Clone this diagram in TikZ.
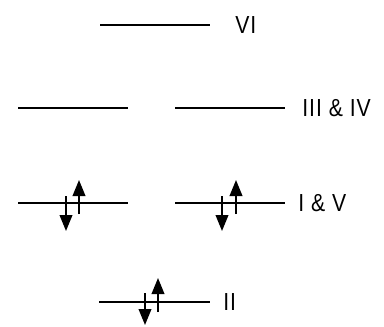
\documentclass[tikz,border=0pt]{standalone}
\usepackage{fontspec}
\setmainfont{Liberation Sans}[FakeStretch=0.86,LetterSpace=4]
\usetikzlibrary{arrows.meta,positioning}
\tikzset{
    every node/.style={font=\fontsize{18.5}{20}\selectfont},
    level/.style={line width=1.3pt},
    spin/.style={line width=1.3pt,-{Triangle[length=12pt,width=9.5pt]}},
    tag/.style={anchor=base west,inner sep=0pt}
}
\begin{document}
\begin{tikzpicture}[x=0.75pt,y=-0.75pt]
    \useasboundingbox (0,0) rectangle (384,326);
    % VI
    \coordinate (vi-a) at (100,25);
    \coordinate (vi-b) at (210,25);
    \draw[level] (vi-a)--(vi-b);
    \node[tag] (vi) at (235,33) {VI};
    % III & IV
    \coordinate (iii-a) at (18,108);
    \coordinate (iii-b) at (128,108);
    \coordinate (iv-a) at (175,108);
    \coordinate (iv-b) at (285,108);
    \draw[level] (iii-a)--(iii-b);
    \draw[level] (iv-a)--(iv-b);
    \node[tag] (iiiiv) at (302,116) {III \& IV};
    % I & V
    \coordinate (i-a) at (18,203);
    \coordinate (i-b) at (128,203);
    \coordinate (v-a) at (175,203);
    \coordinate (v-b) at (285,203);
    \draw[level] (i-a)--(i-b);
    \draw[level] (v-a)--(v-b);
    \node[tag] (iv) at (298,211) {I \& V};
    \coordinate (i-dn0) at (66,196);  \coordinate (i-dn1) at (66,231);
    \coordinate (i-up0) at (79,214);  \coordinate (i-up1) at (79,180);
    \coordinate (v-dn0) at (222,196); \coordinate (v-dn1) at (222,231);
    \coordinate (v-up0) at (236,214); \coordinate (v-up1) at (236,180);
    \draw[spin] (i-dn0)--(i-dn1);
    \draw[spin] (i-up0)--(i-up1);
    \draw[spin] (v-dn0)--(v-dn1);
    \draw[spin] (v-up0)--(v-up1);
    % II
    \coordinate (ii-a) at (99,302);
    \coordinate (ii-b) at (210,302);
    \draw[level] (ii-a)--(ii-b);
    \node[tag] (ii) at (223,310) {II};
    \coordinate (ii-dn0) at (145,293); \coordinate (ii-dn1) at (145,325);
    \coordinate (ii-up0) at (158,312); \coordinate (ii-up1) at (158,278);
    \draw[spin] (ii-dn0)--(ii-dn1);
    \draw[spin] (ii-up0)--(ii-up1);
\end{tikzpicture}
\end{document}
